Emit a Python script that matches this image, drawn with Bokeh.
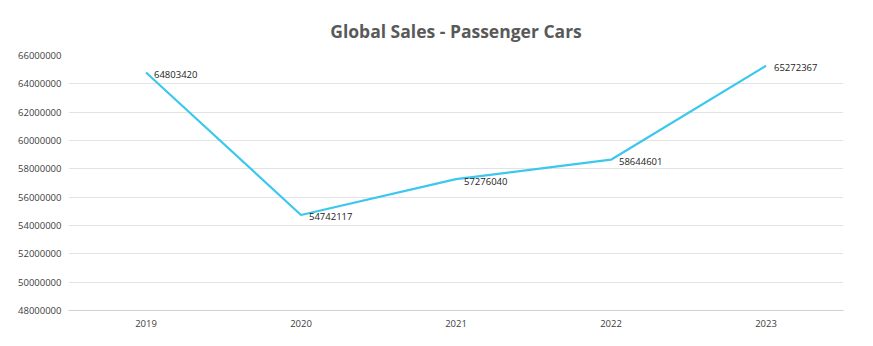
from bokeh.plotting import figure
from bokeh.models import ColumnDataSource, FixedTicker, NumeralTickFormatter, LabelSet, FactorRange, Range1d
from bokeh.core.properties import value
from bokeh.embed import file_html
from bokeh.resources import INLINE

years = ["2019", "2020", "2021", "2022", "2023"]
sales = [64803420, 54742117, 57276040, 58644601, 65272367]
y_ticks = [48000000, 50000000, 52000000, 54000000, 56000000, 58000000, 60000000, 62000000, 64000000, 66000000]

src = ColumnDataSource(dict(x=years, y=sales, lbl=[str(v) for v in sales]))

FONT = "Open Sans"
p = figure(width=873, height=346, x_range=FactorRange(*years), y_range=Range1d(48000000, 66000000),
           output_backend="svg", toolbar_location=None,
           min_border_left=68, min_border_right=30, min_border_top=55, min_border_bottom=36)
p.title.text = "Global Sales - Passenger Cars"
p.title.align = "center"
p.title.text_font = FONT
p.title.text_font_size = "17.5px"
p.title.text_color = "#595959"
p.title.text_font_style = "bold"
p.title.standoff = 25
p.outline_line_color = None

p.line("x", "y", source=src, line_color="#3CC8EE", line_width=2.2)
labels = LabelSet(x="x", y="y", text="lbl", source=src, x_offset=8, y_offset=-2,
                  text_font_size="9.5px", text_font=value(FONT), text_color="#222222", text_baseline="middle")
p.add_layout(labels)

p.yaxis.ticker = FixedTicker(ticks=y_ticks)
p.yaxis.formatter = NumeralTickFormatter(format="0")
p.yaxis.axis_line_color = None
p.yaxis.major_tick_line_color = None
p.yaxis.minor_tick_line_color = None
p.yaxis.major_tick_out = 0
p.yaxis.minor_tick_out = 0
p.yaxis.major_label_text_font = FONT
p.yaxis.major_label_text_font_size = "9.5px"
p.yaxis.major_label_text_color = "#404040"
p.yaxis.major_label_standoff = 7

p.xaxis.axis_line_color = "#d0d0d0"
p.xaxis.major_tick_line_color = None
p.xaxis.minor_tick_line_color = None
p.xaxis.major_tick_out = 0
p.xaxis.minor_tick_out = 0
p.xaxis.major_label_text_font = FONT
p.xaxis.major_label_text_font_size = "9.5px"
p.xaxis.major_label_text_color = "#404040"
p.xaxis.major_label_standoff = 9

p.xgrid.grid_line_color = None
p.ygrid.grid_line_color = "#e3e3e3"
p.ygrid.ticker = FixedTicker(ticks=y_ticks)

open("out.html", "w").write(file_html(p, INLINE))
